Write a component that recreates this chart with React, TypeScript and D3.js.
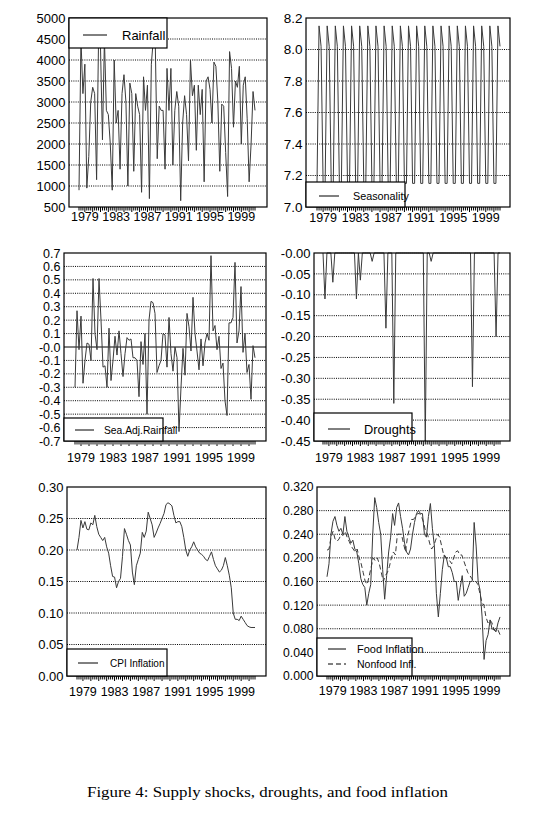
import React from "react";
import * as d3 from "d3";

// ---------- data (quarterly, 1978Q2 .. 2000Q4) ----------
const FIRST_QUARTER = 1978.25;
const YEAR_LABELS = [1979, 1983, 1987, 1991, 1995, 1999];

const rainfall = [
  900, 4500, 3200, 3900, 950, 1700, 3000, 3350, 3200, 1150, 4500, 4300, 2100, 4500, 2800, 2700,
  2000, 900, 4000, 2500, 2800, 1400, 3200, 3650, 3000, 1000, 3450, 3200, 1350, 3200, 2900, 2700,
  850, 3600, 2800, 3400, 700, 3900, 4500, 4400, 1650, 2900, 2800, 2800, 1400, 3800, 2800, 3800,
  1500, 2800, 3250, 2900, 650, 2500, 3150, 2700, 1600, 4000, 3150, 3400, 1850, 3400, 2700, 3300,
  1100, 3500, 3600, 3300, 2500, 3950, 3850, 3000, 1350, 2950, 2900, 1800, 750, 4200, 3800, 2400,
  3500, 3350, 3850, 2000, 3400, 3600, 2600, 1100, 2000, 3250, 2800,
];

const seasonality = [
  7.15, 8.15, 8.02, 7.15, 7.15, 8.15, 8.02, 7.15, 7.15, 8.15, 8.02, 7.15, 7.15, 8.15, 8.02, 7.15,
  7.15, 8.15, 8.02, 7.15, 7.15, 8.15, 8.02, 7.15, 7.15, 8.15, 8.02, 7.15, 7.15, 8.15, 8.02, 7.15,
  7.15, 8.15, 8.02, 7.15, 7.15, 8.15, 8.02, 7.15, 7.15, 8.15, 8.02, 7.15, 7.15, 8.15, 8.02, 7.15,
  7.15, 8.15, 8.02, 7.15, 7.15, 8.15, 8.02, 7.15, 7.15, 8.15, 8.02, 7.15, 7.15, 8.15, 8.02, 7.15,
  7.15, 8.15, 8.02, 7.15, 7.15, 8.15, 8.02, 7.15, 7.15, 8.15, 8.02, 7.15, 7.15, 8.15, 8.02, 7.15,
  7.15, 8.15, 8.02, 7.15, 7.15, 8.15, 8.02, 7.15, 7.15, 8.15, 8.02,
];

const seaAdjRainfall = [
  -0.3, 0.27, -0.02, 0.23, -0.27, -0.1, 0.03, 0.02, -0.1, 0.51, 0.1, -0.02, 0.51, 0.2, -0.15, -0.14,
  -0.3, 0.14, -0.25, -0.1, 0.08, -0.06, 0.12, -0.05, -0.22, -0.05, 0.07, 0.05, 0.06, -0.08, -0.08, -0.1,
  -0.37, 0.04, -0.13, 0.1, -0.5, 0.2, 0.34, 0.33, 0.25, -0.19, -0.14, -0.1, 0.1, 0.09, -0.15, 0.22,
  -0.05, -0.18, 0.0, -0.08, -0.63, -0.3, -0.01, -0.21, 0.25, 0.15, -0.03, 0.37, 0.1, -0.03, -0.17, 0.06,
  -0.14, 0.03, 0.1, 0.05, 0.68, 0.12, 0.16, -0.02, 0.08, -0.16, -0.12, -0.4, -0.51, 0.18, 0.18, 0.22,
  0.63, 0.03, 0.12, 0.45, -0.04, 0.1, -0.19, -0.13, -0.39, 0.01, -0.08,
];

const droughts = [
  0, -0.11, 0, 0, 0, -0.07, 0, 0, 0, 0, 0, 0, 0, 0, 0, 0,
  0, -0.11, 0, -0.065, 0, 0, 0, 0, 0, -0.02, 0, 0, 0, 0, 0, 0,
  -0.18, 0, 0, 0, -0.36, 0, 0, 0, 0, 0, 0, 0, 0, 0, 0, 0,
  0, 0, 0, 0, -0.45, 0, 0, -0.02, 0, 0, 0, 0, 0, 0, 0, 0,
  0, 0, 0, 0, 0, 0, 0, 0, 0, 0, 0, 0, -0.32, 0, 0, 0,
  0, 0, 0, 0, 0, 0, 0, 0, -0.2, 0, 0,
];

const cpiInflation = [
  0.2, 0.22, 0.247, 0.235, 0.245, 0.233, 0.232, 0.243, 0.24, 0.255, 0.237, 0.225, 0.22, 0.215, 0.22, 0.205,
  0.195, 0.175, 0.158, 0.157, 0.14, 0.15, 0.155, 0.19, 0.234, 0.225, 0.215, 0.208, 0.165, 0.145, 0.175, 0.185,
  0.195, 0.228, 0.22, 0.23, 0.26, 0.25, 0.24, 0.22, 0.227, 0.235, 0.242, 0.25, 0.258, 0.272, 0.275, 0.273,
  0.27, 0.255, 0.243, 0.245, 0.245, 0.237, 0.22, 0.2, 0.19, 0.2, 0.205, 0.213, 0.205, 0.2, 0.195, 0.193,
  0.19, 0.185, 0.183, 0.19, 0.197, 0.185, 0.175, 0.17, 0.165, 0.168, 0.175, 0.188, 0.175, 0.16, 0.14, 0.1,
  0.09, 0.09, 0.088, 0.095, 0.09, 0.085, 0.08, 0.078, 0.077, 0.077, 0.077,
];

const foodInflation = [
  0.168, 0.19, 0.24, 0.262, 0.27, 0.255, 0.245, 0.25, 0.24, 0.27, 0.245, 0.235, 0.225, 0.23, 0.215, 0.21,
  0.19, 0.165, 0.155, 0.15, 0.12, 0.14, 0.155, 0.24, 0.302, 0.285, 0.26, 0.24, 0.18, 0.13, 0.17, 0.21,
  0.235, 0.275, 0.255, 0.285, 0.293, 0.27, 0.25, 0.225, 0.21, 0.205, 0.215, 0.24, 0.26, 0.275, 0.28, 0.275,
  0.275, 0.24, 0.235, 0.27, 0.292, 0.25, 0.22, 0.14, 0.1, 0.14, 0.18, 0.205, 0.2, 0.185, 0.185, 0.175,
  0.16, 0.16, 0.128, 0.15, 0.17, 0.135, 0.14, 0.15, 0.16, 0.16, 0.26, 0.22, 0.16, 0.145, 0.1, 0.028,
  0.06, 0.07, 0.095, 0.08, 0.078, 0.075, 0.09, 0.1,
];

const nonfoodInflation = [
  0.213, 0.215, 0.235, 0.245, 0.232, 0.228, 0.232, 0.24, 0.238, 0.245, 0.235, 0.228, 0.22, 0.215, 0.21, 0.215,
  0.2, 0.19, 0.175, 0.16, 0.155, 0.17, 0.185, 0.2, 0.195, 0.2, 0.19, 0.175, 0.16, 0.17, 0.175, 0.185,
  0.2, 0.21, 0.205, 0.24, 0.24, 0.24, 0.225, 0.21, 0.235, 0.25, 0.265, 0.265, 0.27, 0.275, 0.275, 0.27,
  0.26, 0.245, 0.24, 0.225, 0.215, 0.22, 0.23, 0.24, 0.235, 0.22, 0.205, 0.2, 0.2, 0.195, 0.19, 0.2,
  0.21, 0.212, 0.205, 0.205, 0.195, 0.185, 0.175, 0.17, 0.165, 0.16, 0.16, 0.155, 0.14, 0.125, 0.12, 0.1,
  0.09, 0.095, 0.09, 0.08, 0.075, 0.078, 0.07,
];

const rainTicks = [500, 1000, 1500, 2000, 2500, 3000, 3500, 4000, 4500, 5000];
const seasTicks = [7.0, 7.2, 7.4, 7.6, 7.8, 8.0, 8.2];
const seaAdjTicks = [0.7, 0.6, 0.5, 0.4, 0.3, 0.2, 0.1, 0.0, -0.1, -0.2, -0.3, -0.4, -0.5, -0.6, -0.7];
const droughtTicks = [0, -0.05, -0.1, -0.15, -0.2, -0.25, -0.3, -0.35, -0.4, -0.45];
const cpiTicks = [0, 0.05, 0.1, 0.15, 0.2, 0.25, 0.3];
const foodTicks = [0, 0.04, 0.08, 0.12, 0.16, 0.2, 0.24, 0.28, 0.32];

const FONT = "'Liberation Sans', Arial, sans-serif";
const LINE = "#3a3a3a";

type Series = { values: number[]; dash?: string };
type Legend = {
  box: [number, number, number, number];
  items: { label: string; y: number; x1: number; x2: number; tx: number; size: number; dash?: string }[];
};
type PanelProps = {
  box: { l: number; t: number; r: number; b: number };
  dataL: number;
  dataR: number;
  labelOff: number;
  domain: [number, number];
  ticks: number[];
  tickSize?: number;
  fmt: (v: number) => string;
  series: Series[];
  zeroLine?: boolean;
  legend: Legend;
};

function Panel(p: PanelProps) {
  const { box } = p;
  const nQ = rainfall.length;
  const lastQ = FIRST_QUARTER + (nQ - 1) * 0.25;
  const x = d3.scaleLinear().domain([FIRST_QUARTER, lastQ]).range([p.dataL, p.dataR]);
  const y = d3.scaleLinear().domain(p.domain).range([box.b, box.t]);
  const quarters = d3.range(nQ).map((i) => FIRST_QUARTER + i * 0.25);
  const inner = p.ticks.filter((t) => Math.abs(y(t) - box.b) > 0.5 && Math.abs(y(t) - box.t) > 0.5);
  return (
    <g>
      {inner.map((t, i) =>
        p.zeroLine && Math.abs(t) < 1e-9 ? (
          <line key={i} x1={box.l} x2={box.r} y1={y(t)} y2={y(t)} stroke="#000" strokeWidth={1} />
        ) : (
          <line key={i} x1={box.l} x2={box.r} y1={y(t)} y2={y(t)} stroke="#000" strokeWidth={1} strokeDasharray="1,1.2" />
        )
      )}
      {p.series.map((s, si) => {
        const xs = d3
          .scaleLinear()
          .domain([0, s.values.length - 1])
          .range([FIRST_QUARTER, lastQ]);
        const gen = d3
          .line<number>()
          .x((_, i) => x(xs(i)))
          .y((v) => y(v));
        return (
          <path
            key={si}
            d={gen(s.values) || ""}
            fill="none"
            stroke={LINE}
            strokeWidth={1}
            strokeDasharray={s.dash}
            strokeLinejoin="miter"
            strokeMiterlimit={2}
          />
        );
      })}
      <rect x={box.l} y={box.t} width={box.r - box.l} height={box.b - box.t} fill="none" stroke="#000" strokeWidth={1.2} />
      {quarters.map((q, i) => {
        const isYear = Math.abs(q - Math.round(q)) < 1e-6;
        return (
          <line key={i} x1={x(q)} x2={x(q)} y1={box.b} y2={box.b + (isYear ? 5 : 3.5)} stroke="#000" strokeWidth={1} />
        );
      })}
      {YEAR_LABELS.map((yr) => (
        <text key={yr} x={x(yr)} y={box.b + p.labelOff} fontSize={12.5} fontFamily={FONT} textAnchor="middle" fill="#000">
          {yr}
        </text>
      ))}
      {p.ticks.map((t, i) => (
        <text key={i} x={box.l - 3.5} y={y(t)} dy="0.36em" fontSize={p.tickSize ?? 13} fontFamily={FONT} textAnchor="end" fill="#000">
          {p.fmt(t)}
        </text>
      ))}
      <rect
        x={p.legend.box[0]}
        y={p.legend.box[1]}
        width={p.legend.box[2] - p.legend.box[0]}
        height={p.legend.box[3] - p.legend.box[1]}
        fill="#fff"
        stroke="#000"
        strokeWidth={1.2}
      />
      {p.legend.items.map((it, i) => (
        <g key={i}>
          <line x1={it.x1} x2={it.x2} y1={it.y} y2={it.y} stroke="#000" strokeWidth={1} strokeDasharray={it.dash} />
          <text x={it.tx} y={it.y} dy="0.36em" fontSize={it.size} fontFamily={FONT} fill="#000">
            {it.label}
          </text>
        </g>
      ))}
    </g>
  );
}

const fmtSigned = (d: number) => (v: number) => {
  const s = Math.abs(v).toFixed(d);
  return v < 0 || v === 0 ? "-" + s : s;
};

export default function App() {
  return (
    <svg width={555} height={819} style={{ position: "absolute", left: 0, top: 0, background: "#fff" }}>
      <rect x={0} y={0} width={555} height={819} fill="#fff" />
      <Panel
        box={{ l: 69, t: 18, r: 267, b: 207 }}
        dataL={79}
        dataR={255}
        labelOff={14}
        domain={[500, 5000]}
        ticks={rainTicks}
        fmt={(v) => String(v)}
        series={[{ values: rainfall }]}
        legend={{ box: [69, 18, 167, 48], items: [{ label: "Rainfall", y: 35, x1: 83, x2: 107, tx: 122, size: 13 }] }}
      />
      <Panel
        box={{ l: 306, t: 18, r: 510, b: 207 }}
        dataL={317}
        dataR={500}
        labelOff={15}
        domain={[7.0, 8.2]}
        ticks={seasTicks}
        tickSize={13.5}
        fmt={(v) => v.toFixed(1)}
        series={[{ values: seasonality }]}
        legend={{ box: [306, 182, 405, 207], items: [{ label: "Seasonality", y: 196, x1: 319, x2: 339, tx: 353, size: 10.8 }] }}
      />
      <Panel
        box={{ l: 64, t: 253, r: 266, b: 441 }}
        dataL={75}
        dataR={255}
        labelOff={21}
        domain={[-0.7, 0.7]}
        ticks={seaAdjTicks}
        tickSize={12.5}
        fmt={(v) => (Math.abs(v) < 1e-9 ? "-0.0" : v.toFixed(1))}
        series={[{ values: seaAdjRainfall }]}
        zeroLine
        legend={{ box: [64, 418, 163, 441], items: [{ label: "Sea.Adj.Rainfall", y: 430, x1: 75, x2: 94, tx: 104, size: 10.3 }] }}
      />
      <Panel
        box={{ l: 314, t: 253, r: 510, b: 441 }}
        dataL={323}
        dataR={500}
        labelOff={21}
        domain={[-0.45, 0]}
        ticks={droughtTicks}
        fmt={fmtSigned(2)}
        series={[{ values: droughts }]}
        legend={{ box: [314, 413, 412, 441], items: [{ label: "Droughts", y: 429, x1: 328, x2: 350, tx: 364, size: 12.8 }] }}
      />
      <Panel
        box={{ l: 67, t: 487, r: 266, b: 676 }}
        dataL={77}
        dataR={255}
        labelOff={19.5}
        domain={[0, 0.3]}
        ticks={cpiTicks}
        fmt={(v) => v.toFixed(2)}
        series={[{ values: cpiInflation }]}
        legend={{ box: [67, 649, 167, 676], items: [{ label: "CPI Inflation", y: 663, x1: 78, x2: 98, tx: 110, size: 10 }] }}
      />
      <Panel
        box={{ l: 317, t: 487, r: 510, b: 676 }}
        dataL={327}
        dataR={500}
        labelOff={19}
        domain={[0, 0.32]}
        ticks={foodTicks}
        tickSize={12.2}
        fmt={(v) => v.toFixed(3)}
        series={[{ values: foodInflation }, { values: nonfoodInflation, dash: "5,3" }]}
        legend={{
          box: [317, 638, 412, 676],
          items: [
            { label: "Food Inflation", y: 649, x1: 328, x2: 346, tx: 357, size: 11 },
            { label: "Nonfood Infl.", y: 664, x1: 328, x2: 346, tx: 357, size: 10.5, dash: "5,3" },
          ],
        }}
      />
      <text x={87} y={797} fontSize={15.5} fontFamily="'Liberation Serif', 'DejaVu Serif', serif" textLength={361} lengthAdjust="spacingAndGlyphs" fill="#000">
        Figure 4: Supply shocks, droughts, and food inflation
      </text>
    </svg>
  );
}
